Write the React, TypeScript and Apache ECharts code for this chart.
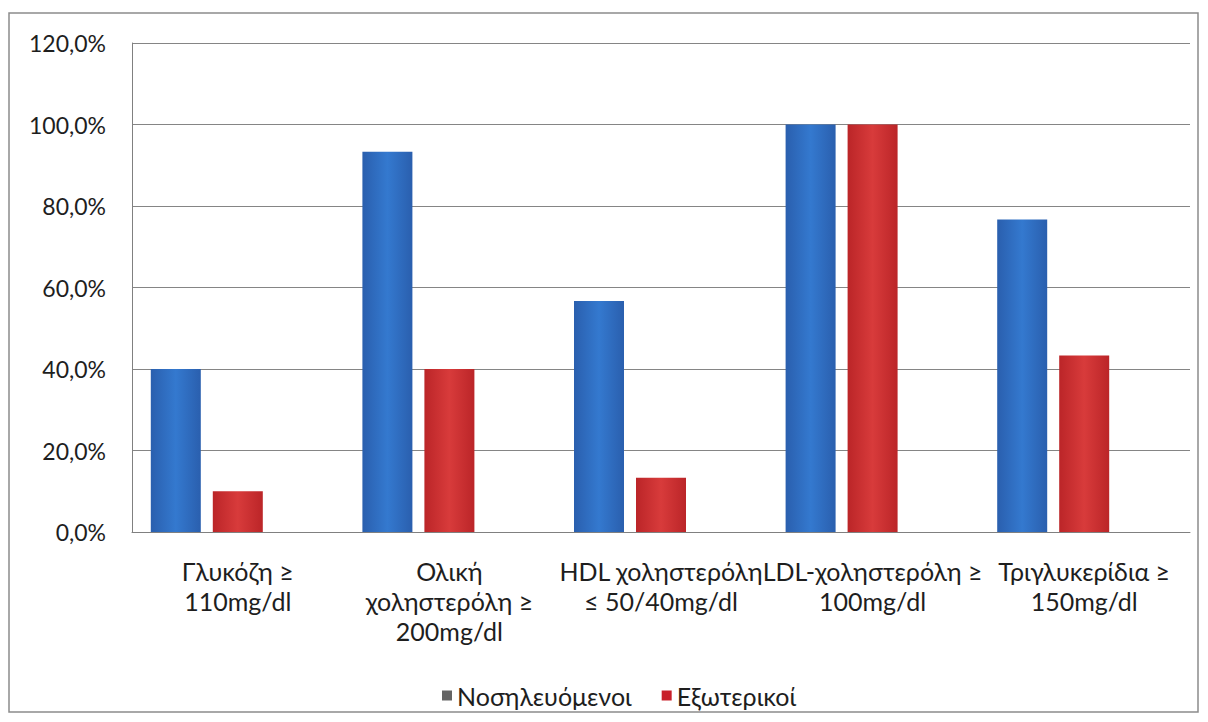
import React, { useEffect, useRef } from "react";
import * as echarts from "echarts";

const categories = [
  "Γλυκόζη ≥\n110mg/dl",
  "Ολική\nχοληστερόλη ≥\n200mg/dl",
  "HDL χοληστερόλη\n≤ 50/40mg/dl",
  "LDL-χοληστερόλη ≥\n100mg/dl",
  "Τριγλυκερίδια ≥\n150mg/dl",
];
const seriesNames = ["Νοσηλευόμενοι", "Εξωτερικοί"];
const inpatients = [40.0, 93.3, 56.7, 100.0, 76.7];
const outpatients = [10.0, 40.0, 13.3, 100.0, 43.3];
const emptySeries = [null, null, null, null, null];
const yMin = 0;
const yMax = 120;
const yStep = 20;

const FONT = "Lato, 'Open Sans', 'Noto Sans', sans-serif";

function grad(edge: string, mid: string) {
  return new echarts.graphic.LinearGradient(0, 0, 1, 0, [
    { offset: 0, color: edge },
    { offset: 0.5, color: mid },
    { offset: 1, color: edge },
  ]);
}

export default function App() {
  const ref = useRef<HTMLDivElement>(null);
  useEffect(() => {
    document.body.style.margin = "0";
    const chart = echarts.init(ref.current!, undefined, { renderer: "svg" });
    chart.setOption({
      animation: false,
      backgroundColor: "#ffffff",
      graphic: [
        {
          type: "rect",
          shape: { x: 9, y: 13, width: 1189, height: 699 },
          style: { fill: "none", stroke: "#8c8c8c", lineWidth: 1.5 },
          silent: true,
          z: 0,
        },
      ],
      grid: { left: 132, top: 43, right: 18, bottom: 190, containLabel: false },
      legend: {
        left: 437,
        top: 678,
        itemWidth: 10,
        itemHeight: 10,
        itemGap: 30,
        icon: "rect",
        textStyle: { fontFamily: FONT, fontSize: 25, color: "#1e1e1e" },
        data: [
          { name: seriesNames[0], itemStyle: { color: "#646464" } },
          { name: seriesNames[1], itemStyle: { color: "#c8202a" } },
        ],
      },
      xAxis: {
        type: "category",
        data: categories,
        axisLine: { lineStyle: { color: "#808080", width: 1 } },
        axisTick: { show: false },
        axisLabel: {
          interval: 0,
          margin: 24,
          fontFamily: FONT,
          fontSize: 25,
          lineHeight: 30,
          color: "#1e1e1e",
        },
        splitLine: { show: false },
      },
      yAxis: {
        type: "value",
        min: yMin,
        max: yMax,
        interval: yStep,
        axisLine: { show: true, lineStyle: { color: "#808080", width: 1 } },
        axisTick: { show: false },
        axisLabel: {
          margin: 26,
          fontFamily: FONT,
          fontSize: 23,
          color: "#1e1e1e",
          formatter: (v: number) => v.toFixed(1).replace(".", ",") + "%",
        },
        splitLine: { show: true, lineStyle: { color: "#858585", width: 1 } },
      },
      series: [
        {
          name: seriesNames[0],
          type: "bar",
          data: inpatients,
          barWidth: 50,
          barGap: "24%",
          barCategoryGap: "18%",
          itemStyle: { color: grad("#2a5fae", "#3479cf") },
        },
        {
          name: seriesNames[1],
          type: "bar",
          data: outpatients,
          barWidth: 50,
          barGap: "24%",
          itemStyle: { color: grad("#bb2528", "#d83b3b") },
        },
        {
          name: "",
          type: "bar",
          data: emptySeries,
          barWidth: 50,
          barGap: "24%",
        },
      ],
    });
    return () => chart.dispose();
  }, []);
  return <div ref={ref} style={{ width: 1208, height: 722 }} />;
}
